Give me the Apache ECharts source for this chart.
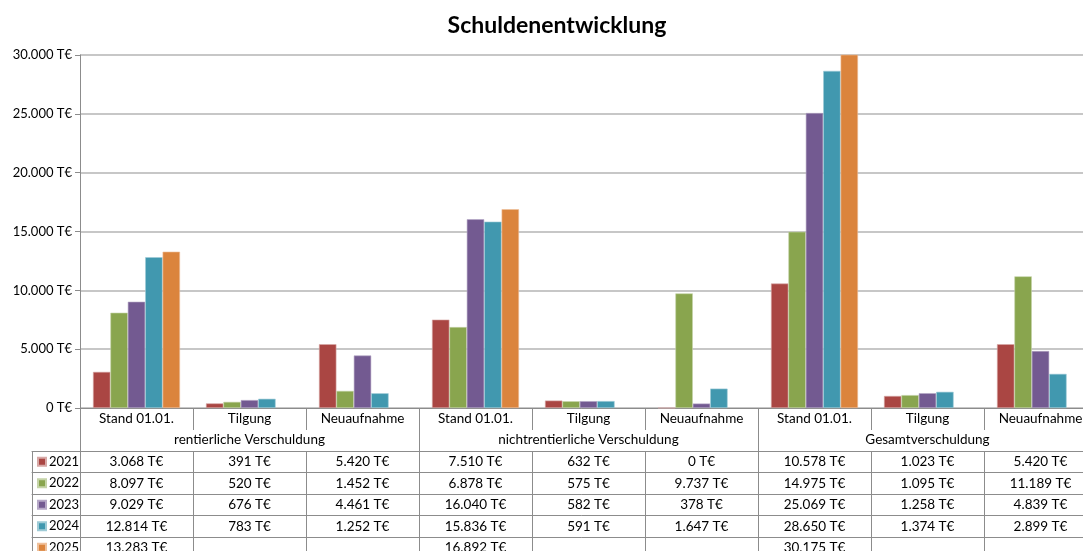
<!DOCTYPE html>
<html>
<head>
<meta charset="utf-8">
<script src="https://cdn.jsdelivr.net/npm/echarts@6/dist/echarts.min.js"></script>
<style>
  html, body { margin: 0; padding: 0; background: #fff; }
  #myChart { width: 1083px; height: 551px; }
</style>
</head>
<body>
<div id="myChart"></div>
<script>
// Kategorien und Gruppen
var categories = ['Stand 01.01.', 'Tilgung', 'Neuaufnahme',
                  'Stand 01.01.', 'Tilgung', 'Neuaufnahme',
                  'Stand 01.01.', 'Tilgung', 'Neuaufnahme'];
var groups = ['rentierliche Verschuldung', 'nichtrentierliche Verschuldung', 'Gesamtverschuldung'];
var years = ['2021', '2022', '2023', '2024', '2025'];

// Werte in T€
var v2021 = [3068, 391, 5420, 7510, 632, 0, 10578, 1023, 5420];
var v2022 = [8097, 520, 1452, 6878, 575, 9737, 14975, 1095, 11189];
var v2023 = [9029, 676, 4461, 16040, 582, 378, 25069, 1258, 4839];
var v2024 = [12814, 783, 1252, 15836, 591, 1647, 28650, 1374, 2899];
var v2025 = [13283, null, null, 16892, null, null, 30175, null, null];
var values = [v2021, v2022, v2023, v2024, v2025];

var colors = ['#AA4643', '#89A54E', '#735A91', '#4198AF', '#DB843D'];
var edge = ['#d7a9a7', '#c5d4a8', '#b5a7c6', '#9fcbd6', '#efc09b'];

var font = 'Lato, "Open Sans", sans-serif';
var lineCol = '#8c8c8c';

function fmt(v) {
  if (v === null || v === undefined) return '';
  return String(v).replace(/\B(?=(\d{3})+(?!\d))/g, '.') + ' T€';
}

var rowH = 21.5;
var xAxes = [
  {
    type: 'category', gridIndex: 0, position: 'bottom', data: categories,
    axisLine: { lineStyle: { color: lineCol } },
    axisTick: { show: true, interval: 0, length: 22, lineStyle: { color: lineCol } },
    axisLabel: { interval: 0, margin: 4, fontSize: 13.5, color: '#000', fontFamily: font }
  },
  {
    type: 'category', gridIndex: 0, position: 'bottom', offset: 22, data: groups,
    axisLine: { show: false },
    axisTick: { show: true, interval: 0, length: 21, lineStyle: { color: lineCol } },
    axisLabel: { interval: 0, margin: 3, fontSize: 13.5, color: '#000', fontFamily: font }
  }
];
var yAxes = [
  {
    type: 'value', gridIndex: 0, min: 0, max: 30000, interval: 5000,
    axisLine: { show: true, lineStyle: { color: lineCol } },
    axisTick: { show: true, length: 5, lineStyle: { color: lineCol } },
    splitLine: { lineStyle: { color: '#b4b4b4', width: 1.5 } },
    axisLabel: { formatter: fmt, fontSize: 13, color: '#000', fontFamily: font, margin: 8 }
  },
  { type: 'value', gridIndex: 1, show: false }
];

// Tabellenzeilen als zusätzliche Achsen
values.forEach(function (row, i) {
  var off = 43 + i * rowH;
  xAxes.push({
    type: 'category', gridIndex: 0, position: 'bottom', offset: off,
    data: row.map(fmt),
    axisLine: { show: true, lineStyle: { color: lineCol } },
    axisTick: { show: true, interval: 0, length: rowH, lineStyle: { color: lineCol } },
    axisLabel: { interval: 0, margin: 4, fontSize: 13.5, color: '#000', fontFamily: font }
  });
  // linke Legendenspalte
  xAxes.push({
    type: 'category', gridIndex: 1, position: 'bottom', offset: i * rowH,
    data: [''],
    axisLine: { show: true, lineStyle: { color: lineCol } },
    axisTick: { show: true, interval: 0, length: rowH, lineStyle: { color: lineCol } },
    axisLabel: { show: false }
  });
});

var series = years.map(function (y, i) {
  return {
    name: y,
    type: 'bar',
    xAxisIndex: 0,
    yAxisIndex: 0,
    data: values[i],
    barGap: '0%',
    barCategoryGap: '23%',
    itemStyle: { color: colors[i], borderColor: edge[i], borderWidth: 0.6 },
    animation: false
  };
});

var legendBase = {
  orient: 'vertical', left: 37, padding: 0,
  itemWidth: 8, itemHeight: 8, itemGap: 0,
  icon: 'rect', selectedMode: false,
  textStyle: { fontSize: 13, lineHeight: rowH, color: '#000', fontFamily: font, padding: [0, 0, 0, -2] }
};

var myChart = echarts.init(document.getElementById('myChart'));
myChart.setOption({
  backgroundColor: '#fff',
  animation: false,
  color: colors,
  title: {
    text: 'Schuldenentwicklung',
    left: 552, top: 9, textAlign: 'center',
    textStyle: { fontSize: 23, fontWeight: 'bold', color: '#000', fontFamily: font }
  },
  legend: [
    Object.assign({}, legendBase, { top: 451, data: years.slice(0, 4) }),
    Object.assign({}, legendBase, { top: 451 + 4 * rowH, data: years.slice(4) })
  ],
  grid: [
    { left: 80, top: 55, width: 1017, height: 353, containLabel: false, outerBoundsMode: 'none' },
    { left: 32, top: 450, width: 48, height: 1, containLabel: false, outerBoundsMode: 'none' }
  ],
  xAxis: xAxes,
  yAxis: yAxes,
  series: series
});
</script>
</body>
</html>
